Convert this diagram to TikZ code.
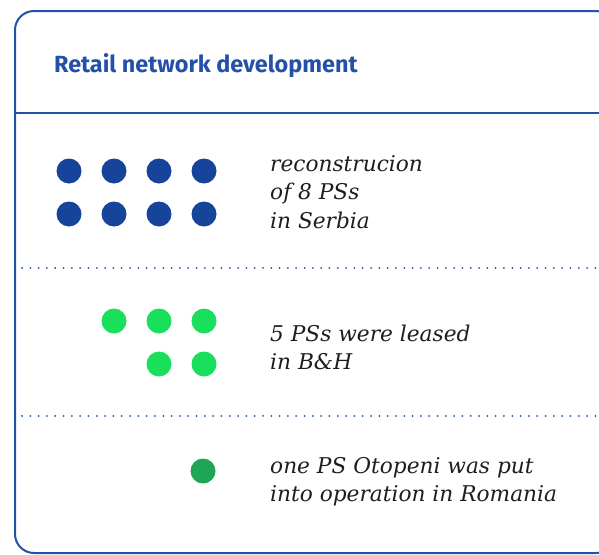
\documentclass[tikz,border=0pt]{standalone}
\usepackage{fontspec}
\setmainfont{DejaVu Serif}
\newfontfamily\titlefont{Fira Sans}
\definecolor{frame}{HTML}{2450A8}
\definecolor{dblue}{HTML}{17449B}
\definecolor{lgreen}{HTML}{19E05A}
\definecolor{dgreen}{HTML}{1EA556}
\definecolor{ink}{HTML}{1E1E1E}
\tikzset{
  dotb/.style={circle,fill=dblue,minimum size=25pt,inner sep=0pt},
  dotg/.style={circle,fill=lgreen,minimum size=25pt,inner sep=0pt},
  dotd/.style={circle,fill=dgreen,minimum size=25pt,inner sep=0pt},
  desc/.style={anchor=base west,inner sep=0pt,font=\fontsize{21.7}{26}\selectfont\itshape,text=ink},
  sep/.style={frame,line width=2pt,dash pattern=on 0.01pt off 8.3pt,line cap=round}
}
\begin{document}
\begin{tikzpicture}[x=1pt,y=-1pt]
\useasboundingbox (0,0) rectangle (599,554);
\clip (0,0) rectangle (599,554);
\draw[frame,line width=2pt,rounded corners=19pt] (15,11) rectangle (615,553);
\coordinate (hl) at (15,113); \coordinate (hr) at (599,113);
\draw[frame,line width=2pt] (hl) -- (hr);
\node[anchor=base west,inner sep=0pt,text=frame,font=\titlefont\bfseries\fontsize{23.4}{24}\selectfont] (title) at (54,72) {Retail network development};
% blue
\foreach \i/\x in {1/69,2/114,3/159,4/204}{
  \node[dotb] (b1\i) at (\x,171) {};
  \node[dotb] (b2\i) at (\x,214) {};
}
\node[desc] (t1a) at (270,171) {reconstrucion};
\node[desc] (t1b) at (270,199.5) {of 8 PSs};
\node[desc] (t1c) at (270,228) {in Serbia};
\coordinate (s1l) at (22,268); \coordinate (s1r) at (599,268);
\draw[sep] (s1l) -- (s1r);
% green
\node[dotg] (g1) at (114,321) {};
\node[dotg] (g2) at (159,321) {};
\node[dotg] (g3) at (204,321) {};
\node[dotg] (g4) at (159,364) {};
\node[dotg] (g5) at (204,364) {};
\node[desc] (t2a) at (270,341) {5 PSs were leased};
\node[desc] (t2b) at (270,369.5) {in B\&H};
\coordinate (s2l) at (22,416); \coordinate (s2r) at (599,416);
\draw[sep] (s2l) -- (s2r);
\node[dotd] (d1) at (203,471) {};
\node[desc] (t3a) at (270,473) {one PS Otopeni was put};
\node[desc] (t3b) at (270,501) {into operation in Romania};
\end{tikzpicture}
\end{document}
